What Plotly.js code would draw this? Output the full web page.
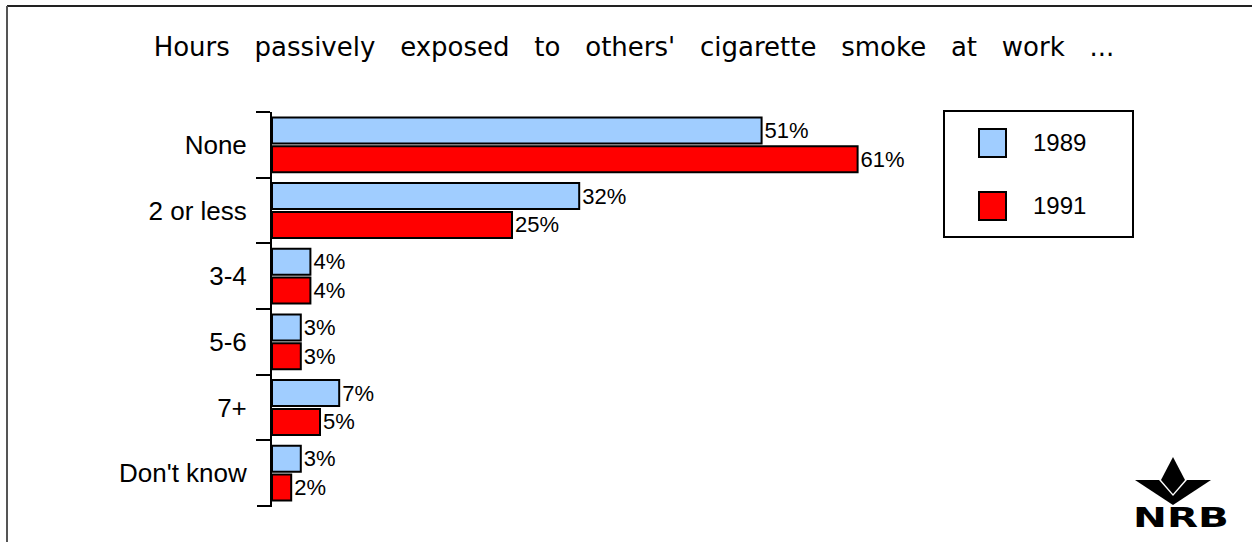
<!DOCTYPE html>
<html>
<head>
<meta charset="utf-8">
<script src="https://cdn.plot.ly/plotly-3.0.1.min.js"></script>
<style>
html,body{margin:0;padding:0;background:#fff;}
#chart{width:1252px;height:542px;}
</style>
</head>
<body>
<div id="chart"></div>
<script>
// ---- data ----
const categories = ['None', '2 or less', '3-4', '5-6', '7+', "Don't know"];
const seriesNames = ['1989', '1991'];
const values1989 = [51, 32, 4, 3, 7, 3];
const values1991 = [61, 25, 4, 3, 5, 2];
const titleWords = ['Hours', 'passively', 'exposed', 'to', "others'", 'cigarette', 'smoke', 'at', 'work', '...'];
const logoText = 'NRB';

// ---- layout geometry (pixels) ----
const FIG_W = 1252, FIG_H = 542;
const L = 272, T = 112, R = 944, B = 506;
const PW = R - L, PH = B - T;
const px = x => (x - L) / PW;
const py = y => 1 - (y - T) / PH;
const pathFrom = pts => 'M ' + pts.map(p => px(p[0]).toFixed(5) + ',' + py(p[1]).toFixed(5)).join(' L ') + ' Z';

const BLUE = '#a0cdff';
const RED = '#ff0000';
const colors = [BLUE, RED];

const barFont = {family: 'Liberation Sans, Arial, sans-serif', size: 22, color: '#000'};

const traces = [values1989, values1991].map((vals, i) => ({
  type: 'bar',
  orientation: 'h',
  name: seriesNames[i],
  y: categories,
  x: vals,
  marker: {color: colors[i], line: {color: '#000', width: 2}},
  text: vals.map(v => v + '%'),
  textposition: 'outside',
  textfont: barFont,
  outsidetextfont: barFont,
  constraintext: 'none',
  cliponaxis: false,
  hoverinfo: 'skip'
}));

const lineBlack = {color: '#000', width: 2};
const shapes = [
  // outer frame (top and left)
  {type: 'line', xref: 'paper', yref: 'paper', x0: px(7), x1: px(1252), y0: py(6), y1: py(6), line: {color: '#222', width: 2}},
  {type: 'line', xref: 'paper', yref: 'paper', x0: px(7), x1: px(7), y0: py(6), y1: py(542), line: {color: '#555', width: 2}},
  // bottom boundary tick of the category axis
  {type: 'line', xref: 'paper', yref: 'paper', x0: px(257), x1: px(272), y0: 0, y1: 0, line: lineBlack},
  // legend box
  {type: 'rect', xref: 'paper', yref: 'paper', x0: px(944), x1: px(1133), y0: py(111), y1: py(237), line: lineBlack, fillcolor: '#fff'},
  {type: 'rect', xref: 'paper', yref: 'paper', x0: px(979), x1: px(1006), y0: py(129), y1: py(157), line: lineBlack, fillcolor: BLUE},
  {type: 'rect', xref: 'paper', yref: 'paper', x0: px(979), x1: px(1006), y0: py(192), y1: py(220), line: lineBlack, fillcolor: RED},
  // logo leaves
  {type: 'path', xref: 'paper', yref: 'paper', path: pathFrom([[1173,457],[1185,480],[1173,494],[1161,480]]), fillcolor: '#000', line: {width: 0}},
  {type: 'path', xref: 'paper', yref: 'paper', path: pathFrom([[1135,480],[1159,480],[1173,496],[1173,505]]), fillcolor: '#000', line: {width: 0}},
  {type: 'path', xref: 'paper', yref: 'paper', path: pathFrom([[1211,480],[1187,480],[1173,496],[1173,505]]), fillcolor: '#000', line: {width: 0}}
];

const legFont = {family: 'Liberation Sans, Arial, sans-serif', size: 24, color: '#000'};
const annotations = [
  {xref: 'paper', yref: 'paper', x: px(1031), y: py(143), xanchor: 'left', yanchor: 'middle', text: seriesNames[0], showarrow: false, font: legFont},
  {xref: 'paper', yref: 'paper', x: px(1031), y: py(206), xanchor: 'left', yanchor: 'middle', text: seriesNames[1], showarrow: false, font: legFont},
  {xref: 'paper', yref: 'paper', x: px(1181), y: py(517), xanchor: 'center', yanchor: 'middle', text: logoText, showarrow: false,
   font: {family: 'DejaVu Sans, sans-serif', size: 27, weight: 'bold', color: '#000'}}
];

const layout = {
  width: FIG_W, height: FIG_H,
  paper_bgcolor: '#fff', plot_bgcolor: '#fff',
  margin: {l: L, r: FIG_W - R, t: T, b: FIG_H - B, pad: 0},
  showlegend: false,
  barmode: 'group',
  bargap: 0.12,
  bargroupgap: 0.1,
  title: {
    text: titleWords.join('\u00a0\u00a0\u00a0'),
    font: {family: 'DejaVu Sans, Verdana, sans-serif', size: 26, color: '#000'},
    x: 634 / FIG_W, xref: 'container', xanchor: 'center',
    y: 1 - 47 / FIG_H, yref: 'container', yanchor: 'middle'
  },
  xaxis: {range: [0, 70], visible: false, fixedrange: true},
  yaxis: {
    type: 'category',
    autorange: 'reversed',
    ticks: 'outside', tickson: 'boundaries', ticklen: 14, tickwidth: 2, tickcolor: '#000',
    showline: true, linewidth: 2, linecolor: '#000',
    showgrid: false, zeroline: false,
    ticklabelstandoff: 18,
    tickfont: {family: 'Liberation Sans, Arial, sans-serif', size: 26, color: '#000'},
    fixedrange: true
  },
  shapes: shapes,
  annotations: annotations
};

Plotly.newPlot('chart', traces, layout, {staticPlot: true, displayModeBar: false}).then(gd => {
  gd.querySelectorAll('text.annotation-text').forEach(t => {
    if (t.textContent === logoText) {
      t.style.transformBox = 'fill-box';
      t.style.transformOrigin = 'center';
      t.style.transform = 'scaleX(1.5)';
    }
  });
});
</script>
</body>
</html>
